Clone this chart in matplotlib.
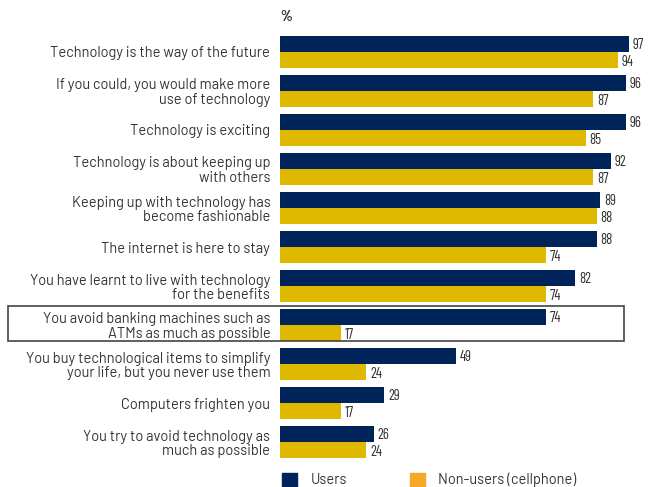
import matplotlib
matplotlib.use("Agg")
import matplotlib.pyplot as plt
from matplotlib.patches import Rectangle

plt.rcParams['font.family'] = ['Barlow', 'Barlow Semi Condensed', 'DejaVu Sans']
NUM_FONT = ['Barlow Condensed', 'DejaVu Sans']

statements = [
    "Technology is the way of the future",
    "If you could, you would make more\nuse of technology",
    "Technology is exciting",
    "Technology is about keeping up\nwith others",
    "Keeping up with technology has\nbecome fashionable",
    "The internet is here to stay",
    "You have learnt to live with technology\nfor the benefits",
    "You avoid banking machines such as\nATMs as much as possible",
    "You buy technological items to simplify\nyour life, but you never use them",
    "Computers frighten you",
    "You try to avoid technology as\nmuch as possible",
]
users = [97, 96, 96, 92, 89, 88, 82, 74, 49, 29, 26]
non_users = [94, 87, 85, 87, 88, 74, 74, 17, 24, 17, 24]
series_names = ["Users", "Non-users (cellphone)"]

NAVY = "#00245a"
GOLD = "#dfb800"
ORANGE = "#f5a82a"
TEXT = "#333333"

W, H = 648, 487
fig = plt.figure(figsize=(W / 100, H / 100), dpi=100)
ax = fig.add_axes([280 / W, 1 - 461.5 / H, (W - 280) / W, (461.5 - 32.5) / H])

n = len(statements)
idx = list(range(n))
bh = 0.41
y_u = [i - bh / 2 for i in idx]
y_n = [i + bh / 2 for i in idx]
ax.barh(y_u, users, height=bh, color=NAVY)
ax.barh(y_n, non_users, height=bh, color=GOLD)

for y, v in zip(y_u, users):
    ax.text(v + 1.0, y + 0.02, str(v), va="center", ha="left", fontsize=10.5,
            color=TEXT, family=NUM_FONT)
for y, v in zip(y_n, non_users):
    ax.text(v + 1.0, y + 0.06, str(v), va="center", ha="left", fontsize=10.5,
            color=TEXT, family=NUM_FONT)

ax.set_xlim(0, (W - 280) / 3.6)
ax.set_ylim(n - 0.5, -0.5)
ax.set_yticks(idx)
ax.set_yticklabels(statements, fontsize=10.5, color=TEXT, linespacing=1.05)
ax.tick_params(axis="y", length=0, pad=7)
ax.set_xticks([])
for s in ax.spines.values():
    s.set_visible(False)

fig.text(280 / W, 1 - 17 / H, "%", fontsize=11, fontweight="bold", color=TEXT,
         ha="left", va="center", family=NUM_FONT)

# highlight box around one statement
fig.patches.append(Rectangle((8 / W, 1 - 341 / H), (624 - 8) / W, (341 - 306) / H,
                             transform=fig.transFigure, fill=False,
                             edgecolor="#444444", linewidth=1.2))

# legend
for x0, col, name, tx in [(282, NAVY, series_names[0], 311),
                          (410, ORANGE, series_names[1], 438)]:
    fig.patches.append(Rectangle((x0 / W, 1 - 488 / H), 15 / W, 15 / H,
                                 transform=fig.transFigure, color=col))
    fig.text(tx / W, 1 - 480 / H, name, fontsize=10.5, color=TEXT, ha="left", va="center")

fig.savefig("out.png", dpi=100)
